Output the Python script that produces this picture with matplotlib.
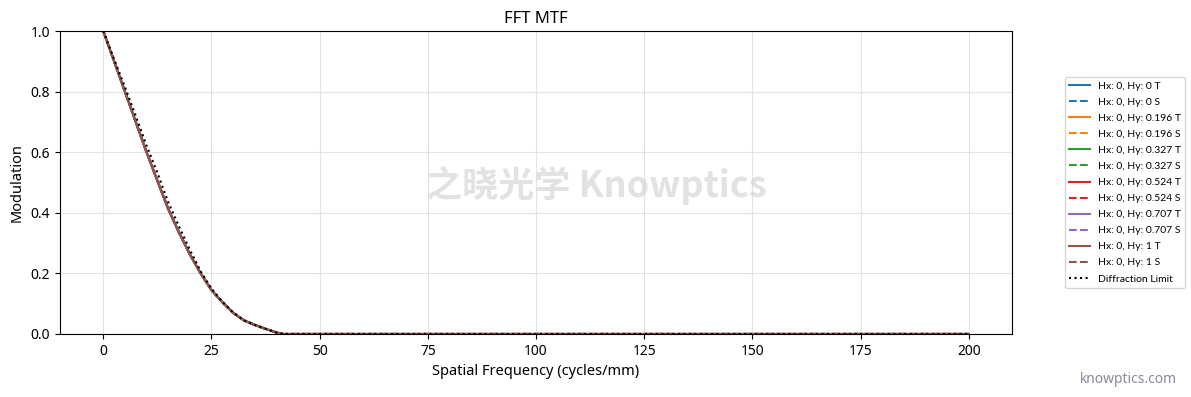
import matplotlib
matplotlib.use("Agg")
import matplotlib.pyplot as plt

plt.rcParams['font.family'] = ['Noto Sans', 'Noto Sans CJK SC', 'DejaVu Sans']

# Data
freq = [0, 2.5, 5, 7.5, 10, 12.5, 15, 17.5, 20, 22.5, 25, 27.5, 30, 32.5, 35,
        37.5, 40, 41.5, 50, 75, 100, 125, 150, 175, 200]
mtf_values = [1.0, 0.90, 0.80, 0.70, 0.60, 0.506, 0.413, 0.335, 0.263, 0.20,
              0.145, 0.105, 0.07, 0.045, 0.03, 0.017, 0.005, 0.0, 0.0, 0.0,
              0.0, 0.0, 0.0, 0.0, 0.0]
diffraction = [1.0, 0.907, 0.815, 0.72, 0.622, 0.532, 0.435, 0.355, 0.278, 0.207,
               0.15, 0.107, 0.071, 0.045, 0.03, 0.017, 0.005, 0.0, 0.0, 0.0,
               0.0, 0.0, 0.0, 0.0, 0.0]
hy_fields = ['0', '0.196', '0.327', '0.524', '0.707', '1']
colors = ['#1f77b4', '#ff7f0e', '#2ca02c', '#d62728', '#9467bd', '#8c564b']

fig = plt.figure(figsize=(11.91, 3.97), dpi=100)
ax = fig.add_axes([0.0504, 0.1587, 0.7993, 0.7632])

for hy, c in zip(hy_fields, colors):
    ax.plot(freq, mtf_values, color=c, linestyle='-', linewidth=1.5,
            label=f'Hx: 0, Hy: {hy} T')
    ax.plot(freq, mtf_values, color=c, linestyle='--', linewidth=1.5,
            label=f'Hx: 0, Hy: {hy} S')
ax.plot(freq, diffraction, color='black', linestyle=':', linewidth=1.5,
        label='Diffraction Limit')

ax.set_xlim(-10, 210)
ax.set_ylim(0, 1.0)
ax.set_xticks([0, 25, 50, 75, 100, 125, 150, 175, 200])
ax.set_yticks([0.0, 0.2, 0.4, 0.6, 0.8, 1.0])
ax.grid(True, color='#dddddd', linewidth=0.8, alpha=0.8)
ax.set_axisbelow(True)
ax.tick_params(labelsize=10)
ax.set_title('FFT MTF', fontsize=12)
ax.set_xlabel('Spatial Frequency (cycles/mm)', fontsize=10.5)
ax.set_ylabel('Modulation', fontsize=10.5)

ax.legend(loc='center left', bbox_to_anchor=(1.05, 0.5),
          prop={'family': 'Lato', 'size': 7.5},
          frameon=True, labelspacing=0.65, handlelength=2.0)

ax.text(0.563, 0.49, '之晓光学 Knowptics', transform=ax.transAxes,
        fontsize=26, fontweight='bold', color='#cfcfd3', alpha=0.6,
        ha='center', va='center', family=['Noto Sans CJK SC', 'DejaVu Sans'],
        zorder=5)
fig.text(0.988, 0.045, 'knowptics.com', fontsize=10, color='#8a8a9a',
         ha='right', va='center')

fig.savefig('out.png', dpi=100)
